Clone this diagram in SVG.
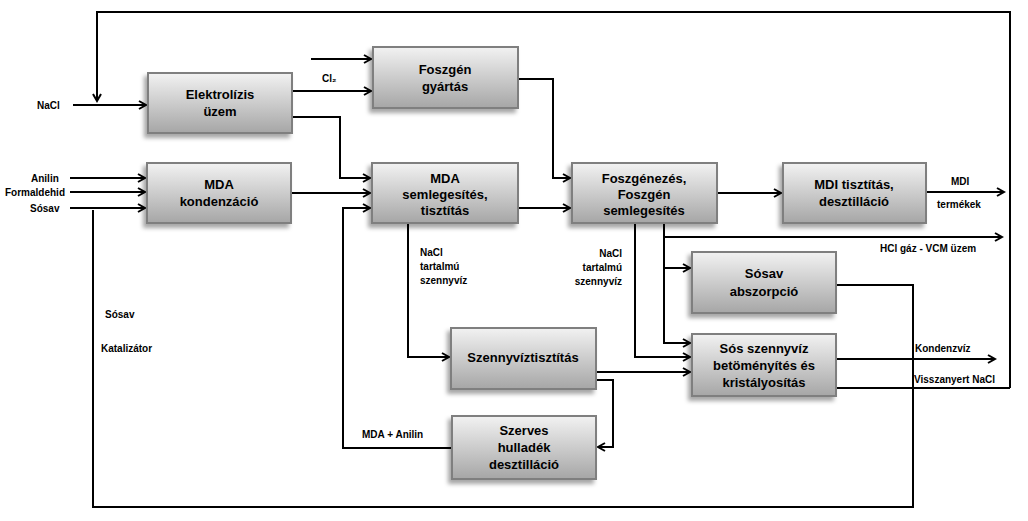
<svg xmlns="http://www.w3.org/2000/svg" width="1028" height="521" viewBox="0 0 1028 521">
<defs>
<linearGradient id="g" x1="0" y1="0" x2="0" y2="1"><stop offset="0" stop-color="#f2f2f2"/><stop offset="1" stop-color="#a6a6a6"/></linearGradient>
<filter id="sh" x="-10%" y="-10%" width="130%" height="140%"><feDropShadow dx="-3" dy="4" stdDeviation="2" flood-color="#000" flood-opacity="0.35"/></filter>
<marker id="a" markerWidth="10" markerHeight="10" refX="8" refY="5" orient="auto" markerUnits="userSpaceOnUse"><path d="M1,1 L8,5 L1,9" fill="none" stroke="#000" stroke-width="2"/></marker>
</defs>
<style>
.b{fill:url(#g);stroke:#7f7f7f;stroke-width:2;filter:url(#sh)}
.t{font-family:"Liberation Sans",Arial,sans-serif;font-weight:bold;font-size:13px;text-anchor:middle;fill:#000}
.l{font-family:"Liberation Sans",Arial,sans-serif;font-weight:bold;font-size:10px;fill:#000}
.c path{fill:none;stroke:#000;stroke-width:2}
</style>
<rect width="1028" height="521" fill="#fff"/>
<g class="c">
<path d="M1010,388 V12 H97 V101" marker-end="url(#a)"/>
<path d="M73,105 H146" marker-end="url(#a)"/>
<path d="M292,91 H371" marker-end="url(#a)"/>
<path d="M311,59 H371" marker-end="url(#a)"/>
<path d="M292,117 H340 V178 H370" marker-end="url(#a)"/>
<path d="M291,193 H370" marker-end="url(#a)"/>
<path d="M70,178 H145" marker-end="url(#a)"/>
<path d="M70,192 H145" marker-end="url(#a)"/>
<path d="M70,208 H145" marker-end="url(#a)"/>
<path d="M93,210 V507 H913 V285 H836"/>
<path d="M452,448 H343 V208 H370" marker-end="url(#a)"/>
<path d="M408,223 V357 H449" marker-end="url(#a)"/>
<path d="M518,208 H570" marker-end="url(#a)"/>
<path d="M518,79 H553 V178 H570" marker-end="url(#a)"/>
<path d="M717,193 H781" marker-end="url(#a)"/>
<path d="M926,192 H1004" marker-end="url(#a)"/>
<path d="M635,223 V357 H690" marker-end="url(#a)"/>
<path d="M664,223 V343 H690" marker-end="url(#a)"/>
<path d="M664,237 H1002" marker-end="url(#a)"/>
<path d="M664,268 H690" marker-end="url(#a)"/>
<path d="M596,372 H690" marker-end="url(#a)"/>
<path d="M596,380 H613 V447 H598" marker-end="url(#a)"/>
<path d="M836,359 H995" marker-end="url(#a)"/>
<path d="M836,388 H1010"/>
</g>
<g id="elektrolizis"><rect class="b" x="148" y="73" width="144" height="60"/><text class="t" x="220" y="99">Elektrolízis</text><text class="t" x="220" y="116">üzem</text></g>
<g id="foszgen-gyartas"><rect class="b" x="373" y="47" width="145" height="61"/><text class="t" x="445" y="74">Foszgén</text><text class="t" x="445" y="91">gyártás</text></g>
<g id="mda-kondenzacio"><rect class="b" x="147" y="163" width="144" height="60"/><text class="t" x="219" y="189">MDA</text><text class="t" x="219" y="206">kondenzáció</text></g>
<g id="mda-semlegesites"><rect class="b" x="372" y="163" width="146" height="60"/><text class="t" x="445" y="183">MDA</text><text class="t" x="445" y="199">semlegesítés,</text><text class="t" x="445" y="215">tisztítás</text></g>
<g id="foszgenezes"><rect class="b" x="572" y="163" width="145" height="60"/><text class="t" x="644" y="183">Foszgénezés,</text><text class="t" x="644" y="199">Foszgén</text><text class="t" x="644" y="215">semlegesítés</text></g>
<g id="mdi-tisztitas"><rect class="b" x="783" y="163" width="143" height="60"/><text class="t" x="854" y="189">MDI tisztítás,</text><text class="t" x="854" y="206">desztilláció</text></g>
<g id="sosav-abszorpcio"><rect class="b" x="692" y="252" width="144" height="61"/><text class="t" x="764" y="278">Sósav</text><text class="t" x="764" y="296">abszorpció</text></g>
<g id="sos-szennyviz"><rect class="b" x="692" y="334" width="144" height="62"/><text class="t" x="764" y="353">Sós szennyvíz</text><text class="t" x="764" y="370">betöményítés és</text><text class="t" x="764" y="387">kristályosítás</text></g>
<g id="szennyviztisztitas"><rect class="b" x="451" y="328" width="145" height="61"/><text class="t" x="523" y="362">Szennyvíztisztítás</text></g>
<g id="szerves-hulladek"><rect class="b" x="452" y="416" width="144" height="63"/><text class="t" x="524" y="435">Szerves</text><text class="t" x="524" y="452">hulladék</text><text class="t" x="524" y="469">desztilláció</text></g>
<g id="labels">
<text class="l" x="37" y="109">NaCl</text>
<text class="l" x="322" y="82">Cl₂</text>
<text class="l" x="31" y="182">Anilin</text>
<text class="l" x="5" y="196">Formaldehid</text>
<text class="l" x="30" y="212">Sósav</text>
<text class="l" x="105" y="318">Sósav</text>
<text class="l" x="101" y="352">Katalizátor</text>
<text class="l" x="420" y="256">NaCl</text>
<text class="l" x="420" y="270">tartalmú</text>
<text class="l" x="420" y="284">szennyvíz</text>
<text class="l" x="622" y="257" text-anchor="end">NaCl</text>
<text class="l" x="622" y="271" text-anchor="end">tartalmú</text>
<text class="l" x="622" y="285" text-anchor="end">szennyvíz</text>
<text class="l" x="362" y="438">MDA + Anilin</text>
<text class="l" x="951" y="185">MDI</text>
<text class="l" x="937" y="208">termékek</text>
<text class="l" x="880" y="252">HCl gáz - VCM üzem</text>
<text class="l" x="915" y="352">Kondenzvíz</text>
<text class="l" x="914" y="383">Visszanyert NaCl</text>
</g>
</svg>
